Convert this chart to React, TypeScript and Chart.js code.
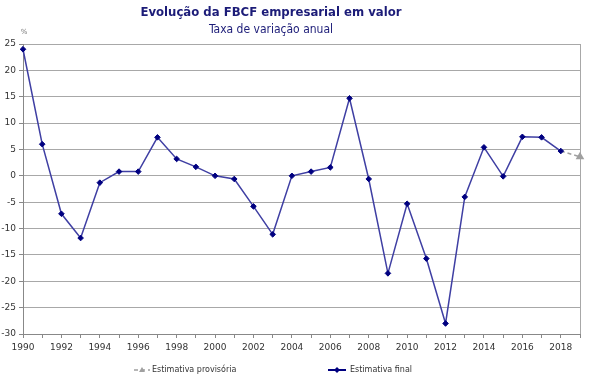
import React, { useEffect, useRef } from "react";
import { Chart, registerables } from "chart.js";

Chart.register(...registerables);

const years: number[] = [
  1990, 1991, 1992, 1993, 1994, 1995, 1996, 1997, 1998, 1999,
  2000, 2001, 2002, 2003, 2004, 2005, 2006, 2007, 2008, 2009,
  2010, 2011, 2012, 2013, 2014, 2015, 2016, 2017, 2018,
];
const finalValues: number[] = [
  24.0, 6.0, -7.2, -11.8, -1.3, 0.8, 0.8, 7.3, 3.2, 1.7,
  0.0, -0.6, -5.8, -11.1, 0.0, 0.8, 1.6, 14.7, -0.6, -18.5,
  -5.3, -15.7, -28.0, -4.0, 5.4, -0.1, 7.4, 7.3, 4.7,
];
const provisionalYears: number[] = [2018, 2019];
const provisionalValues: number[] = [4.7, 3.6];

const titleText = "Evolução da FBCF empresarial em valor";
const subtitleText = "Taxa de variação anual";
const unitText = "%";
const legendProvisional = "Estimativa provisória";
const legendFinal = "Estimativa final";

const NAVY = "#1c1c78";
const LINE = "#3f3fa3";
const MARK = "#000080";
const GREY = "#a0a0a0";
const GRID = "#a8a8a8";
const TICK_FONT = "DejaVu Sans";

const overlay = {
  id: "overlay",
  beforeDatasetsDraw(chart: any) {
    const { ctx, chartArea } = chart;
    ctx.save();
    ctx.strokeStyle = GRID;
    ctx.lineWidth = 1;
    ctx.beginPath();
    ctx.moveTo(Math.round(chartArea.right) + 0.5, chartArea.top);
    ctx.lineTo(Math.round(chartArea.right) + 0.5, chartArea.bottom);
    ctx.stroke();
    ctx.restore();
  },
  afterDraw(chart: any) {
    const { ctx, chartArea } = chart;
    const cx = 271;
    ctx.save();
    ctx.textAlign = "center";
    ctx.textBaseline = "middle";
    ctx.fillStyle = NAVY;
    ctx.font = "bold 13px 'DejaVu Sans Condensed', 'DejaVu Sans'";
    ctx.fillText(titleText, cx, 13);
    ctx.font = "12px 'DejaVu Sans Condensed', 'DejaVu Sans'";
    ctx.fillText(subtitleText, cx, 30);
    ctx.fillStyle = "#777";
    ctx.font = "7px 'DejaVu Sans'";
    ctx.fillText(unitText, chartArea.left + 1, 32);

    // legend
    const ly = 370;
    ctx.textAlign = "left";
    ctx.font = "8px 'DejaVu Sans'";
    // provisional
    ctx.strokeStyle = GREY;
    ctx.lineWidth = 1.5;
    ctx.setLineDash([4, 3]);
    ctx.beginPath();
    ctx.moveTo(134, ly);
    ctx.lineTo(150, ly);
    ctx.stroke();
    ctx.setLineDash([]);
    ctx.fillStyle = GREY;
    ctx.beginPath();
    ctx.moveTo(142, ly - 3);
    ctx.lineTo(145, ly + 2);
    ctx.lineTo(139, ly + 2);
    ctx.closePath();
    ctx.fill();
    ctx.fillStyle = "#333";
    ctx.fillText(legendProvisional, 152, ly);
    // final
    ctx.strokeStyle = MARK;
    ctx.lineWidth = 2;
    ctx.beginPath();
    ctx.moveTo(328, ly);
    ctx.lineTo(346, ly);
    ctx.stroke();
    ctx.fillStyle = MARK;
    ctx.beginPath();
    ctx.moveTo(337, ly - 3);
    ctx.lineTo(340, ly);
    ctx.lineTo(337, ly + 3);
    ctx.lineTo(334, ly);
    ctx.closePath();
    ctx.fill();
    ctx.fillStyle = "#333";
    ctx.fillText(legendFinal, 350, ly);
    ctx.restore();
  },
};

export default function App() {
  const ref = useRef<HTMLCanvasElement | null>(null);

  useEffect(() => {
    if (!ref.current) return;
    const chart = new Chart(ref.current, {
      type: "line",
      data: {
        datasets: [
          {
            label: legendProvisional,
            data: provisionalYears.map((x, i) => ({ x, y: provisionalValues[i] })),
            borderColor: GREY,
            borderWidth: 1.5,
            borderDash: [4, 3],
            pointStyle: "triangle",
            pointRadius: (c: any) => (c.dataIndex === 0 ? 0 : 3.5),
            pointBackgroundColor: GREY,
            pointBorderColor: GREY,
            clip: false as any,
            order: 2,
          },
          {
            label: legendFinal,
            data: years.map((x, i) => ({ x, y: finalValues[i] })),
            borderColor: LINE,
            borderWidth: 1.5,
            pointStyle: "rectRot",
            pointRadius: 2.8,
            pointBackgroundColor: MARK,
            pointBorderColor: MARK,
            pointBorderWidth: 1,
            clip: false as any,
            order: 1,
          },
        ],
      },
      options: {
        responsive: false,
        animation: false,
        layout: { padding: { top: 44, right: 9, left: 0, bottom: 0 } },
        plugins: {
          legend: { display: false },
          title: { display: false },
          tooltip: { enabled: false },
        },
        scales: {
          x: {
            type: "linear",
            min: 1990,
            max: 2019,
            afterFit: (s: any) => {
              s.height = 43;
            },
            afterBuildTicks: (s: any) => {
              const t = [];
              for (let v = 1990; v <= 2019; v++) t.push({ value: v });
              s.ticks = t;
            },
            ticks: {
              autoSkip: false,
              maxRotation: 0,
              padding: 4,
              color: "#333",
              font: { family: TICK_FONT, size: 9 },
              callback: (v: any) => (Number(v) % 2 === 0 && Number(v) <= 2018 ? String(v) : ""),
            },
            grid: {
              drawOnChartArea: false,
              drawTicks: true,
              tickLength: 4,
              color: "#888",
            },
            border: { color: "#888", width: 1 },
          },
          y: {
            min: -30,
            max: 25,
            afterFit: (s: any) => {
              s.width = 23;
            },
            ticks: {
              stepSize: 5,
              padding: 3,
              color: "#333",
              font: { family: TICK_FONT, size: 9 },
            },
            grid: {
              color: GRID,
              lineWidth: 1,
              tickLength: 4,
              tickColor: "#888",
            },
            border: { color: "#888", width: 1 },
          },
        },
      },
      plugins: [overlay],
    });
    return () => chart.destroy();
  }, []);

  return (
    <div style={{ position: "fixed", left: 0, top: 0, width: 589, height: 377, background: "#fff" }}>
      <canvas ref={ref} width={589} height={377} style={{ display: "block" }} />
    </div>
  );
}
